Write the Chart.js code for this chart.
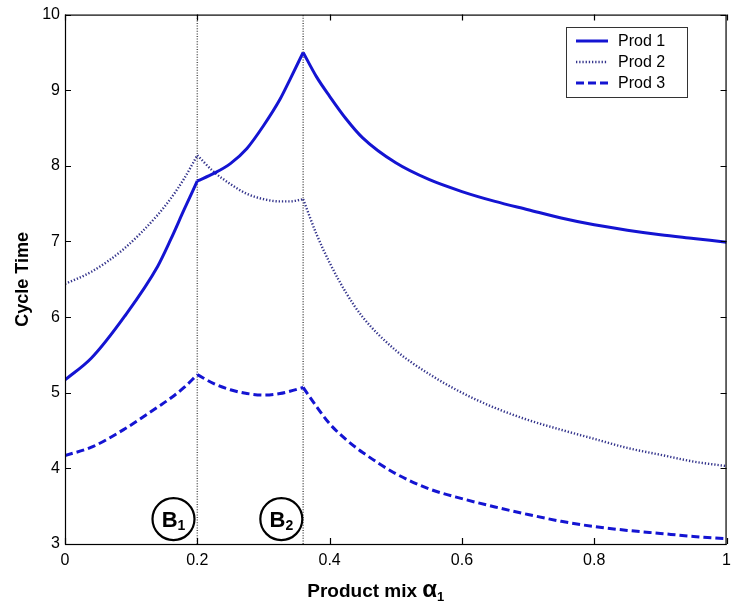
<!DOCTYPE html>
<html>
<head>
<meta charset="utf-8">
<script src="https://cdn.jsdelivr.net/npm/chart.js@4.4.1/dist/chart.umd.min.js"></script>
<style>
  html, body { margin: 0; padding: 0; background: #fff; }
  #wrap { width: 738px; height: 606px; }
</style>
</head>
<body>
<div id="wrap"><canvas id="cycle-chart"></canvas></div>
<script>
// product mix alpha_1 values (x axis)
const alpha = [0, 0.04, 0.09, 0.14, 0.16, 0.18, 0.2, 0.225, 0.25, 0.275, 0.3, 0.325, 0.34, 0.36,
  0.38, 0.4, 0.425, 0.45, 0.5, 0.55, 0.6, 0.65, 0.7, 0.75, 0.8, 0.85, 0.9, 0.95, 1];

const prod1 = [5.17, 5.46, 6.01, 6.67, 7.03, 7.42, 7.8, 7.9, 8.03, 8.23, 8.53, 8.88, 9.14, 9.5,
  9.18, 8.92, 8.62, 8.37, 8.04, 7.82, 7.66, 7.53, 7.42, 7.31, 7.22, 7.15, 7.09, 7.04, 6.99];
const prod2 = [6.44, 6.6, 6.91, 7.35, 7.57, 7.83, 8.14, 7.92, 7.76, 7.63, 7.56, 7.53, 7.53, 7.56,
  7.1, 6.72, 6.32, 6.0, 5.56, 5.25, 5.0, 4.8, 4.64, 4.51, 4.39, 4.27, 4.18, 4.09, 4.03];
const prod3 = [4.17, 4.28, 4.52, 4.81, 4.93, 5.07, 5.24, 5.12, 5.04, 4.99, 4.97, 4.99, 5.02, 5.07,
  4.82, 4.59, 4.38, 4.21, 3.93, 3.73, 3.6, 3.49, 3.39, 3.3, 3.23, 3.18, 3.14, 3.1, 3.07];

const seriesNames = ['Prod 1', 'Prod 2', 'Prod 3'];

// boundaries B1, B2 (curves have a kink there)
const boundaryX = [0.2, 0.36];
const boundaryNames = ['B', 'B'];
const boundarySubs = ['1', '2'];
const boundaryLabelX = [0.164, 0.327];
const boundaryLabelY = 3.33;

const xTicks = [0, 0.2, 0.4, 0.6, 0.8, 1];
const yTicks = [3, 4, 5, 6, 7, 8, 9, 10];

const FONT = '"Liberation Sans", Arial, sans-serif';
const BLUE = '#1414d2';

const styles = [
  { color: BLUE, width: 3, dash: [] },
  { color: '#34348c', width: 2.4, dash: [1.3, 1.9] },
  { color: BLUE, width: 3, dash: [8, 4] }
];

// each curve is drawn as smooth pieces between the kinks
const pieces = [[0, 0.2], [0.2, 0.36], [0.36, 1]];

const datasets = [];
[prod1, prod2, prod3].forEach((s, i) => {
  pieces.forEach(([lo, hi]) => {
    const data = [];
    alpha.forEach((a, k) => { if (a >= lo && a <= hi) data.push({ x: a, y: s[k] }); });
    datasets.push({
      label: seriesNames[i],
      data: data,
      borderColor: styles[i].color,
      borderWidth: styles[i].width,
      borderDash: styles[i].dash,
      pointRadius: 0,
      cubicInterpolationMode: 'monotone',
      fill: false
    });
  });
});

boundaryX.forEach(b => {
  datasets.push({
    label: '',
    data: [{ x: b, y: 3 }, { x: b, y: 10 }],
    borderColor: '#555',
    borderWidth: 1.5,
    borderDash: [1, 1.6],
    pointRadius: 0,
    tension: 0
  });
});

const decor = {
  id: 'decor',
  afterDraw(chart) {
    const ctx = chart.ctx;
    const a = chart.chartArea;
    const xs = chart.scales.x, ys = chart.scales.y;
    ctx.save();

    // box
    ctx.strokeStyle = '#000';
    ctx.lineWidth = 1.2;
    ctx.setLineDash([]);
    ctx.strokeRect(a.left + 0.5, a.top + 0.5, a.right - a.left - 1, a.bottom - a.top);

    // inward ticks
    const tl = 6;
    ctx.beginPath();
    xTicks.forEach(v => {
      const p = Math.round(xs.getPixelForValue(v)) + 0.5;
      ctx.moveTo(p, a.bottom); ctx.lineTo(p, a.bottom - tl);
      ctx.moveTo(p, a.top); ctx.lineTo(p, a.top + tl);
    });
    yTicks.forEach(v => {
      const p = Math.round(ys.getPixelForValue(v)) + 0.5;
      ctx.moveTo(a.left, p); ctx.lineTo(a.left + tl, p);
      ctx.moveTo(a.right, p); ctx.lineTo(a.right - tl, p);
    });
    ctx.stroke();

    // B1, B2 circles
    boundaryLabelX.forEach((bx, i) => {
      const cx = xs.getPixelForValue(bx);
      const cy = ys.getPixelForValue(boundaryLabelY);
      ctx.beginPath();
      ctx.fillStyle = '#fff';
      ctx.lineWidth = 2.2;
      ctx.arc(cx, cy, 21, 0, Math.PI * 2);
      ctx.fill();
      ctx.stroke();
      ctx.fillStyle = '#000';
      ctx.font = 'bold 22px ' + FONT;
      ctx.textBaseline = 'alphabetic';
      ctx.textAlign = 'left';
      const w = ctx.measureText(boundaryNames[i]).width;
      ctx.font = 'bold 14px ' + FONT;
      const ws = ctx.measureText(boundarySubs[i]).width;
      const x0 = cx - (w + ws) / 2;
      ctx.font = 'bold 22px ' + FONT;
      ctx.fillText(boundaryNames[i], x0, cy + 8);
      ctx.font = 'bold 14px ' + FONT;
      ctx.fillText(boundarySubs[i], x0 + w, cy + 11);
    });

    // legend
    const lx = 566, ly = 27, lw = 121, lh = 70;
    ctx.fillStyle = '#fff';
    ctx.fillRect(lx, ly, lw, lh);
    ctx.strokeStyle = '#333';
    ctx.lineWidth = 1;
    ctx.strokeRect(lx + 0.5, ly + 0.5, lw, lh);
    seriesNames.forEach((n, i) => {
      const yy = ly + 14 + i * 21;
      ctx.beginPath();
      ctx.strokeStyle = styles[i].color;
      ctx.lineWidth = styles[i].width;
      ctx.setLineDash(styles[i].dash);
      ctx.moveTo(576, yy);
      ctx.lineTo(608, yy);
      ctx.stroke();
      ctx.setLineDash([]);
      ctx.fillStyle = '#000';
      ctx.font = '16px ' + FONT;
      ctx.textAlign = 'left';
      ctx.textBaseline = 'middle';
      ctx.fillText(n, 618, yy + 1);
    });

    // axis titles
    ctx.fillStyle = '#000';
    ctx.font = 'bold 19px ' + FONT;
    ctx.textAlign = 'left';
    ctx.textBaseline = 'alphabetic';
    const t1 = 'Product mix ';
    const t2 = 'α';
    const w1 = ctx.measureText(t1).width;
    ctx.font = 'bold 24px ' + FONT;
    const w2 = ctx.measureText(t2).width;
    ctx.font = 'bold 13px ' + FONT;
    const w3 = ctx.measureText('1').width;
    const tx = (a.left + a.right) / 2 - (w1 + w2 + w3) / 2 - 20;
    ctx.font = 'bold 19px ' + FONT;
    ctx.fillText(t1, tx, 597);
    ctx.font = 'bold 24px ' + FONT;
    ctx.fillText(t2, tx + w1, 597);
    ctx.font = 'bold 13px ' + FONT;
    ctx.fillText('1', tx + w1 + w2, 601);

    ctx.translate(23, (a.top + a.bottom) / 2);
    ctx.rotate(-Math.PI / 2);
    ctx.font = 'bold 18px ' + FONT;
    ctx.textAlign = 'center';
    ctx.textBaseline = 'middle';
    ctx.fillText('Cycle Time', 0, 0);
    ctx.restore();
  }
};

new Chart(document.getElementById('cycle-chart').getContext('2d'), {
  type: 'line',
  data: { datasets: datasets },
  options: {
    responsive: true,
    maintainAspectRatio: false,
    animation: false,
    layout: { padding: { top: 14, right: 1, left: 0, bottom: 0 } },
    plugins: { legend: { display: false }, tooltip: { enabled: false } },
    scales: {
      x: {
        type: 'linear',
        min: 0,
        max: 1,
        afterBuildTicks: s => { s.ticks = xTicks.map(v => ({ value: v })); },
        afterFit: s => { s.height = 62; },
        grid: { display: false, drawTicks: false },
        border: { display: false },
        ticks: { color: '#000', font: { family: FONT, size: 16 }, padding: 7, maxRotation: 0,
          callback: v => String(v) }
      },
      y: {
        min: 3,
        max: 10,
        afterBuildTicks: s => { s.ticks = yTicks.map(v => ({ value: v })); },
        afterFit: s => { s.width = 65; },
        grid: { display: false, drawTicks: false },
        border: { display: false },
        ticks: { color: '#000', font: { family: FONT, size: 16 }, padding: 5 }
      }
    }
  },
  plugins: [decor]
});
</script>
</body>
</html>
